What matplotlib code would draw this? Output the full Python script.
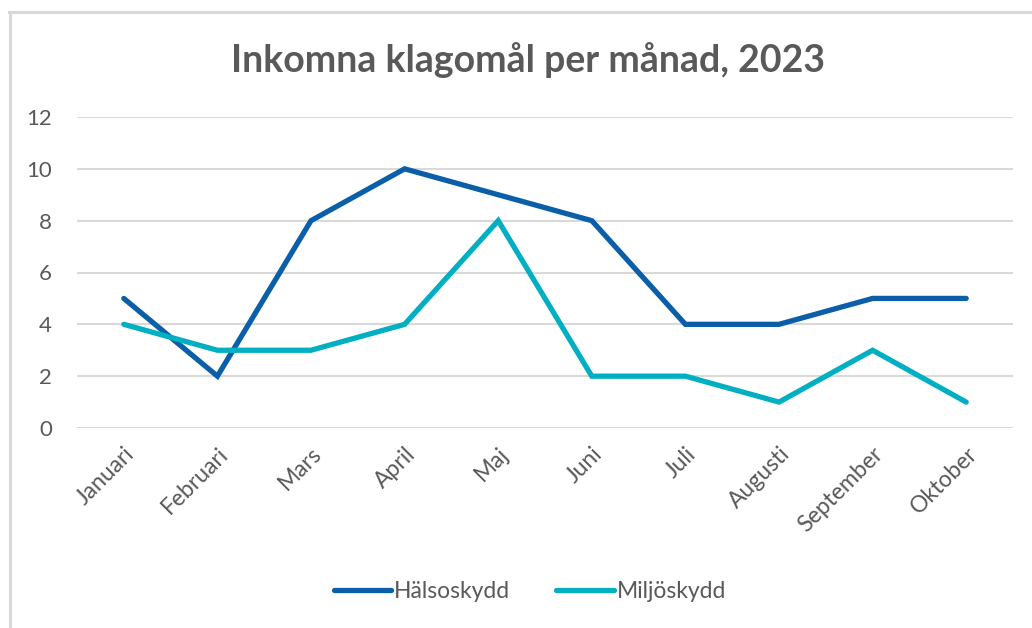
import matplotlib.pyplot as plt
from matplotlib.lines import Line2D

# Data
months = ['Januari', 'Februari', 'Mars', 'April', 'Maj', 'Juni',
          'Juli', 'Augusti', 'September', 'Oktober']
halsoskydd = [5, 2, 8, 10, 9, 8, 4, 4, 5, 5]
miljoskydd = [4, 3, 3, 4, 8, 2, 2, 1, 3, 1]

text_col = '#595959'
plt.rcParams['font.family'] = ['Lato', 'DejaVu Sans']

W, H = 1032, 628
fig = plt.figure(figsize=(W / 100, H / 100), dpi=100)

# outer chart border (left and top edges visible)
fig.add_artist(Line2D([9.5 / W, 9.5 / W], [0, 1 - 11.5 / H], color='#D9D9D9', lw=2.2,
                      transform=fig.transFigure))
fig.add_artist(Line2D([8.5 / W, 1], [1 - 11.5 / H, 1 - 11.5 / H], color='#D9D9D9', lw=2.2,
                      transform=fig.transFigure))

# plot area: x 77..1013, y 117..428 (pixels from top)
ax = fig.add_axes([77 / W, 1 - 428 / H, (1013 - 77) / W, (428 - 117) / H])

x = range(len(months))
ax.plot(x, halsoskydd, color='#0B5EA8', lw=3.8, solid_capstyle='round',
        solid_joinstyle='miter', label='Hälsoskydd', zorder=3)
ax.plot(x, miljoskydd, color='#00AFC1', lw=3.8, solid_capstyle='round',
        solid_joinstyle='miter', label='Miljöskydd', zorder=3)

ax.set_xlim(-0.5, len(months) - 0.5)
ax.set_ylim(0, 12)
ax.set_yticks(range(0, 13, 2))
ax.grid(axis='y', color='#D9D9D9', lw=1.5)
ax.set_axisbelow(True)
for s in ax.spines.values():
    s.set_visible(False)
ax.tick_params(length=0, colors=text_col, labelsize=16)
ax.tick_params(axis='y', pad=18)
ax.set_xticks(list(x))
ax.set_xticklabels(months, rotation=45, ha='right', rotation_mode='anchor')
ax.tick_params(axis='x', pad=11, labelsize=16.5)

fig.text(528 / W, 1 - 60 / H, 'Inkomna klagomål per månad, 2023', ha='center', va='center',
         fontsize=27, fontweight='bold', color=text_col)

fig.legend(loc='center', bbox_to_anchor=(530 / W, 1 - 592 / H), ncol=2, frameon=False,
           fontsize=16.5, labelcolor=text_col, handlelength=2.5, handletextpad=0.15,
           columnspacing=2.0)

fig.savefig('out.png', dpi=100)
